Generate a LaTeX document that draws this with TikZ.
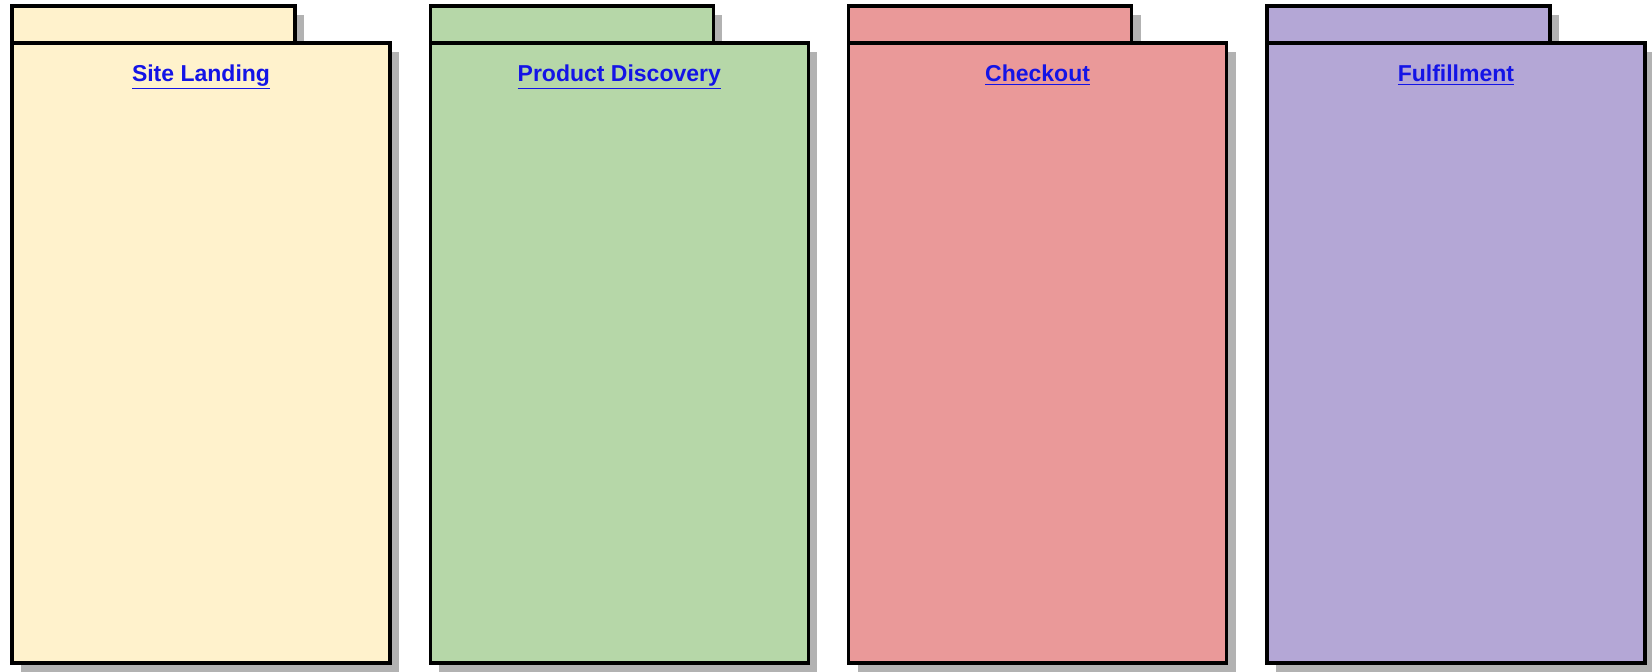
\documentclass[tikz,border=0pt]{standalone}
\usepackage{fontspec}
\setmainfont{Liberation Sans}
\usetikzlibrary{positioning, shadows}

\definecolor{landingfill}{HTML}{FFF2CC}
\definecolor{discoveryfill}{HTML}{B6D7A8}
\definecolor{checkoutfill}{HTML}{EA9999}
\definecolor{fulfilfill}{HTML}{B4A7D6}
\definecolor{linkblue}{HTML}{1414E6}

\begin{document}
\begin{tikzpicture}[
        x=0.5pt, y=-0.5pt,
        pkg/.style={
          draw=black,
          line width=1.8pt,
          outer sep=0pt,
          inner sep=0pt,
          fill=#1,
          drop shadow={shadow xshift=4.5pt, shadow yshift=-4.5pt,
                       fill=black!30, opacity=1}
        },
        pkgbody/.style={
          pkg=#1,
          minimum width=189pt,
          minimum height=310pt,
          anchor=north west
        },
        pkgtab/.style={
          pkg=#1,
          minimum width=141.5pt,
          minimum height=18.5pt
        },
        pkgname/.style={
          inner sep=0pt,
          text=linkblue,
          font=\fontsize{11.5pt}{13pt}\selectfont\bfseries
        },
        node distance=67.65pt
      ]
        \useasboundingbox (0,0) rectangle (1652,672);

        % tabs first, so the bodies cover the tab shadows
        \node[pkgtab=landingfill, anchor=north west] (landingtab) at (12,6) {};
        \node[pkgtab=discoveryfill, right=of landingtab] (discoverytab) {};
        \node[pkgtab=checkoutfill, right=of discoverytab] (checkouttab) {};
        \node[pkgtab=fulfilfill, right=of checkouttab] (fulfiltab) {};

        \node[pkgbody=landingfill] (landing) at (landingtab.south west) {};
        \node[pkgbody=discoveryfill] (discovery) at (discoverytab.south west) {};
        \node[pkgbody=checkoutfill] (checkout) at (checkouttab.south west) {};
        \node[pkgbody=fulfilfill] (fulfil) at (fulfiltab.south west) {};

        \node[pkgname, below=10.5pt of landing.north] (landingname) {\underline{Site Landing}};
        \node[pkgname, below=10.5pt of discovery.north] (discoveryname) {\underline{Product Discovery}};
        \node[pkgname, below=10.5pt of checkout.north] (checkoutname) {\underline{Checkout}};
        \node[pkgname, below=10.5pt of fulfil.north] (fulfilname) {\underline{Fulfillment}};
      \end{tikzpicture}
\end{document}
